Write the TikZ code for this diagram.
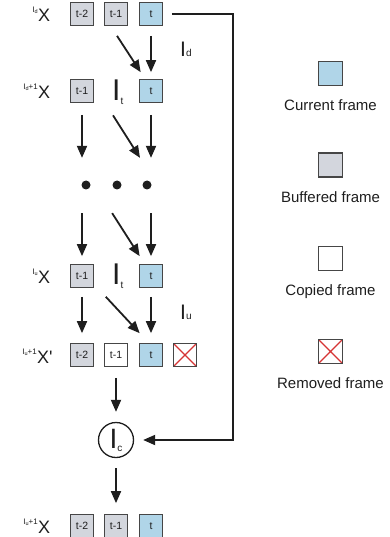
\documentclass[tikz,border=0pt]{standalone}
\usepackage{fontspec}
\setmainfont{Liberation Sans}
\usetikzlibrary{arrows.meta}
\usetikzlibrary{calc}

\definecolor{curblue}{RGB}{176,213,232}
\definecolor{bufgray}{RGB}{211,214,221}
\definecolor{edgegray}{RGB}{70,70,70}
\definecolor{remred}{RGB}{214,52,52}
\definecolor{txtgray}{RGB}{30,30,30}

\newcommand{\fs}[1]{\fontsize{#1}{#1}\selectfont}
\newcommand{\opI}[4]{{\fs{#1}I}\raisebox{#3}{\fs{#2}#4}}
\newcommand{\supI}[2]{{\fs{8}I}\raisebox{-1.5pt}{\fs{5.5}#1}{\fs{8}#2}}

\tikzset{
  frm/.style={draw=edgegray, line width=1.2pt, minimum size=22.5pt, inner sep=0pt, font=\fs{10.5}, text=txtgray},
  cur/.style={frm, fill=curblue},
  buf/.style={frm, fill=bufgray},
  cop/.style={frm, fill=white},
  rem/.style={frm, fill=white, path picture={
      \draw[remred, line width=1.2pt] (path picture bounding box.south west) -- (path picture bounding box.north east)
        (path picture bounding box.north west) -- (path picture bounding box.south east);}},
  arr/.style={line width=1.8pt, draw=txtgray, -{Triangle[length=12pt,width=10pt]}},
  xlab/.style={inner sep=0pt, anchor=west, font=\fs{18}, text=txtgray},
  sup/.style={inner sep=0pt, anchor=north east, text=txtgray},
  oplab/.style={inner sep=0pt, anchor=base west, text=txtgray},
  dot/.style={circle, fill=txtgray, minimum size=9pt, inner sep=0pt},
  leg/.style={font=\fs{15}, text=txtgray, anchor=north},
}

\begin{document}
\begin{tikzpicture}[x=1pt, y=-1pt]
\useasboundingbox (0,0) rectangle (390,537);

% row 1
\node[buf] (r1a) at (82,14) {t-2};
\node[buf] (r1b) at (116,14) {t-1};
\node[cur] (r1c) at (151,14) {t};
\node[xlab] (x1) at (38,15) {X};
\node[sup] at ($(x1.north west)+(0,-2)$) {\supI{d}{}};

% row 2
\node[buf] (r2a) at (82,91) {t-1};
\node[cur] (r2c) at (151,91) {t};
\node[xlab] (x2) at (38,92) {X};
\node[sup] at ($(x2.north west)+(0,-2)$) {\supI{d}{+1}};
\node[oplab] (it2) at (112,101) {\opI{30}{10}{-4pt}{t}};
\node[oplab] (idl) at (180,57) {\opI{21}{10}{0pt}{d}};

% dots
\node[dot] (d1) at (86,185) {};
\node[dot] (d2) at (117,185) {};
\node[dot] (d3) at (147,185) {};

% row 3
\node[buf] (r3a) at (82,276) {t-1};
\node[cur] (r3c) at (151,276) {t};
\node[xlab] (x3) at (38,277) {X};
\node[sup] at ($(x3.north west)+(0,-2)$) {\supI{u}{}};
\node[oplab] (it3) at (112,284) {\opI{30}{10}{-4pt}{t}};
\node[oplab] (iul) at (180,319) {\opI{21}{10}{0pt}{u}};

% row 4
\node[buf] (r4a) at (82,355) {t-2};
\node[cop] (r4b) at (116,355) {t-1};
\node[cur] (r4c) at (151,355) {t};
\node[rem] (r4d) at (185,355) {};
\node[xlab] (x4) at (37,357) {X\textquotesingle};
\node[sup] at ($(x4.north west)+(0,-2)$) {\supI{u}{+1}};

% combination
\node[circle, draw=txtgray, line width=1.3pt, minimum size=35pt, inner sep=0pt, text=txtgray] (comb) at (116,440) {\opI{28}{10}{-3pt}{c}};

% row 5
\node[buf] (r5a) at (82,526) {t-2};
\node[buf] (r5b) at (116,526) {t-1};
\node[cur] (r5c) at (151,526) {t};
\node[xlab] (x5) at (38,527) {X};
\node[sup] at ($(x5.north west)+(0,-2)$) {\supI{u}{+1}};

% arrows
\draw[arr] ($(r1b.south)+(1,10)$) -- ($(r2c.north west)+(1.5,-7)$);
\draw[arr, shorten <=10pt, shorten >=7pt] (r1c) -- (r2c);

\draw[arr] ($(r2a.south)+(0,12)$) -- ++(0,43);
\draw[arr] ($(r2c.south)+(-38,12.5)$) -- ($(r2c.south)+(-11,55)$);
\draw[arr] ($(r2c.south)+(0,12)$) -- ++(0,43);

\draw[arr] ($(r3a.north)+(0,-51)$) -- ($(r3a.north)+(0,-8)$);
\draw[arr] ($(r3c.north west)+(-27,-51)$) -- ($(r3c.north west)+(0.5,-8)$);
\draw[arr] ($(r3c.north)+(0,-51)$) -- ($(r3c.north)+(0,-8)$);

\draw[arr, shorten <=9pt, shorten >=10pt] (r3a) -- (r4a);
\draw[arr] ($(r3a.south east)+(12,9)$) -- ($(r4c.north west)+(0.5,-10)$);
\draw[arr, shorten <=9pt, shorten >=10pt] (r3c) -- (r4c);

\draw[arr, shorten <=11pt, shorten >=10pt] (r4b) -- (comb);
\draw[arr, shorten <=10pt, shorten >=11pt] (comb) -- (r5b);

\draw[arr, shorten <=9pt, shorten >=9pt] (r1c.east) -- ++(70,0) |- (comb);

% legend
\node[cur, minimum size=24pt] (lg1) at (330.5,73.5) {};
\node[leg] at ($(lg1.south)+(0,10)$) {Current frame};
\node[buf, minimum size=24pt] (lg2) at (330.5,165) {};
\node[leg] at ($(lg2.south)+(0,10)$) {Buffered frame};
\node[cop, minimum size=24pt] (lg3) at (330.5,258.5) {};
\node[leg] at ($(lg3.south)+(0,10)$) {Copied frame};
\node[rem, minimum size=24pt] (lg4) at (330.5,351.5) {};
\node[leg] at ($(lg4.south)+(0,10)$) {Removed frame};
\end{tikzpicture}
\end{document}
